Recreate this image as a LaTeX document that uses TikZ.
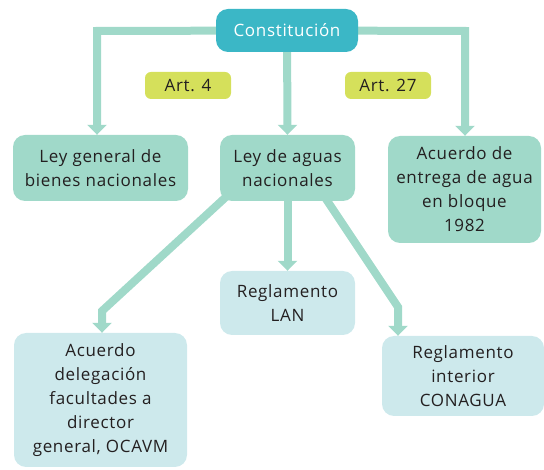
\documentclass[tikz,border=0pt]{standalone}
\usepackage{fontspec}
\setmainfont[LetterSpace=4]{Open Sans}
\usetikzlibrary{arrows.meta,backgrounds}
\definecolor{mint}{HTML}{A0D9C9}
\definecolor{lblue}{HTML}{CDE9EC}
\definecolor{teal}{HTML}{3BB7C6}
\definecolor{lime}{HTML}{D5E05B}
\definecolor{ink}{HTML}{231F20}
\tikzset{
  box/.style={rectangle, rounded corners=12pt, inner sep=0pt, align=center, text=ink,
    font=\fontsize{17}{24}\selectfont},
  mintbox/.style={box, fill=mint},
  bluebox/.style={box, fill=lblue},
  artbox/.style={box, fill=lime, rounded corners=6pt, minimum width=86pt, minimum height=27pt},
  conn/.style={draw=mint, line width=8pt, line join=miter,
    -{Triangle[width=19pt,length=10pt]}},
}
\begin{document}
\begin{tikzpicture}[x=1pt,y=-1pt]
\useasboundingbox (0,0) rectangle (544,470);
\node[box, fill=teal, text=white, minimum width=142pt, minimum height=43pt] (const) at (287,30.5) {Constitución};
\node[artbox] (art4) at (188,85.5) {Art. 4};
\node[artbox] (art27) at (388,85.5) {Art. 27};
\node[mintbox, minimum width=175pt, minimum height=66pt] (leyg) at (100.5,168) {Ley general de\\bienes nacionales};
\node[mintbox, minimum width=135pt, minimum height=66pt] (leya) at (287.5,168) {Ley de aguas\\nacionales};
\node[mintbox, minimum width=153pt, minimum height=107pt] (acu) at (464.5,189.5) {Acuerdo de\\entrega de agua\\en bloque\\1982};
\node[bluebox, minimum width=135pt, minimum height=64pt] (reglan) at (287.5,303) {Reglamento\\LAN};
\node[bluebox, minimum width=173pt, minimum height=134pt] (acdel) at (100.5,400) {Acuerdo\\delegación\\facultades a\\director\\general, OCAVM};
\node[bluebox, minimum width=162pt, minimum height=80pt] (regint) at (463,376) {Reglamento\\interior\\CONAGUA};
\coordinate (cl) at (97,31);
\coordinate (cr) at (465,31);
\coordinate (dl0) at (227,196);
\coordinate (dl1) at (102,311);
\coordinate (dr0) at (326,199);
\coordinate (dr1) at (398,307);
\begin{scope}[on background layer]
\draw[conn] (const.center) -- (cl) -- (cl |- leyg.north);
\draw[conn] (const.center) -- (cr) -- (cr |- acu.north);
\draw[conn] (const.center) -- (leya.north);
\draw[conn] (dl0) -- (dl1) -- (dl1 |- acdel.north);
\draw[conn] (leya.center) -- (reglan.north);
\draw[conn] (dr0) -- (dr1) -- (dr1 |- regint.north);
\end{scope}
\end{tikzpicture}
\end{document}
